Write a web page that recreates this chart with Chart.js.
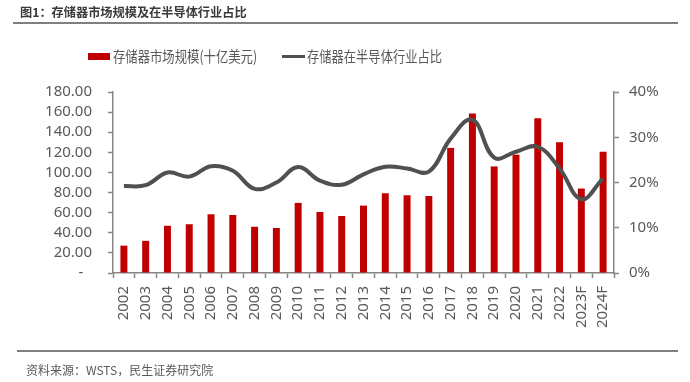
<!DOCTYPE html>
<html>
<head>
<meta charset="utf-8">
<script src="https://cdn.jsdelivr.net/npm/chart.js@4"></script>
<style>
  body { margin: 0; background: #fff; }
  #wrap { position: relative; width: 690px; height: 382px; overflow: hidden; font-family: "Noto Sans CJK SC", "Noto Sans", sans-serif; }
  #mainChart { position: absolute; left: 0; top: 0; }
  .title { position: absolute; left: 20px; top: 3px; font-size: 12.2px; font-weight: bold; color: #3a3a3a; white-space: nowrap; }
  .rule { position: absolute; left: 13px; width: 665px; background: #7f7f7f; }
  .legend-item { position: absolute; top: 46px; font-size: 15px; color: #595959; white-space: nowrap; line-height: 20px; transform-origin: 0 50%; }
  .swatch { position: absolute; }
  .source { position: absolute; left: 26px; top: 361px; font-size: 12px; color: #595959; white-space: nowrap; }
</style>
</head>
<body>
<div id="wrap">
  <canvas id="mainChart" width="690" height="382"></canvas>
  <div class="title">图1：存储器市场规模及在半导体行业占比</div>
  <div class="rule" style="top:22px;height:2px;"></div>
  <div class="swatch" style="left:88px;top:53px;width:22px;height:7px;background:#c00000;"></div>
  <div class="legend-item" id="leg1" style="left:113px;">存储器市场规模(十亿美元)</div>
  <div class="swatch" style="left:282px;top:55px;width:23px;height:3px;background:#505050;"></div>
  <div class="legend-item" id="leg2" style="left:307px;">存储器在半导体行业占比</div>
  <div class="rule" style="top:350px;height:2px;left:17px;width:661px;"></div>
  <div class="source">资料来源：WSTS，民生证券研究院</div>
</div>
<script>
const years = ['2002', '2003', '2004', '2005', '2006', '2007', '2008', '2009', '2010', '2011', '2012',
  '2013', '2014', '2015', '2016', '2017', '2018', '2019', '2020', '2021', '2022', '2023F', '2024F'];

// memory market size, billion USD
const marketSize = [27.2, 32, 47, 48.5, 58.4, 57.7, 46, 44.8, 69.7, 60.7, 56.7,
  67, 79.3, 77.3, 76.6, 124.4, 158.5, 106, 117.7, 154, 130, 84, 120.6];

// share of memory in semiconductor industry
const memoryShare = [0.192, 0.194, 0.222, 0.213, 0.236, 0.226, 0.186, 0.200, 0.234, 0.204, 0.195,
  0.218, 0.235, 0.231, 0.224, 0.297, 0.339, 0.255, 0.268, 0.279, 0.231, 0.163, 0.209];

const leftTicks = [0, 20, 40, 60, 80, 100, 120, 140, 160, 180];
const rightTicks = [0, 0.1, 0.2, 0.3, 0.4];

const axisGray = '#868686';
const labelGray = '#595959';
const numFont = { family: "'Noto Sans', 'Noto Sans CJK SC', sans-serif", size: 15 };

// squeeze legend text to the widths seen in the original
function fitLegend(id, width) {
  const el = document.getElementById(id);
  el.style.transform = `scaleX(${width / el.offsetWidth})`;
}

document.addEventListener('DOMContentLoaded', () => {
  fitLegend('leg1', 144);
  fitLegend('leg2', 135);

  const ctx = document.getElementById('mainChart').getContext('2d');

  new Chart(ctx, {
    type: 'bar',
    data: {
      labels: years,
      datasets: [
        {
          type: 'line',
          label: '存储器在半导体行业占比',
          data: memoryShare,
          yAxisID: 'y1',
          borderColor: '#505050',
          borderWidth: 4,
          tension: 0.4,
          pointRadius: 0,
          fill: false,
          order: 0
        },
        {
          type: 'bar',
          label: '存储器市场规模(十亿美元)',
          data: marketSize,
          yAxisID: 'y',
          backgroundColor: '#c00000',
          barPercentage: 0.32,
          categoryPercentage: 1,
          order: 1
        }
      ]
    },
    options: {
      responsive: false,
      animation: false,
      layout: { padding: { top: 92, bottom: 0, left: 0, right: 0 } },
      plugins: {
        legend: { display: false },
        tooltip: { enabled: false }
      },
      scales: {
        x: {
          offset: true,
          grid: { display: true, offset: true, drawOnChartArea: false, tickLength: 5, color: axisGray, tickWidth: 1.5 },
          border: { color: axisGray, width: 1.5 },
          ticks: { color: labelGray, font: numFont, maxRotation: 90, minRotation: 90, padding: 8, autoSkip: false },
          afterFit: scale => { scale.height = 109; }
        },
        y: {
          position: 'left',
          min: 0,
          max: 180,
          afterBuildTicks: scale => { scale.ticks = leftTicks.map(v => ({ value: v })); },
          grid: { drawOnChartArea: false, tickLength: 5, color: axisGray, tickWidth: 1.5 },
          border: { color: axisGray, width: 1.5 },
          ticks: {
            color: labelGray,
            font: numFont,
            padding: 16,
            autoSkip: false,
            callback: v => v === 0 ? '-\u2007' : v.toFixed(2)
          },
          afterFit: scale => { scale.width = 113; }
        },
        y1: {
          position: 'right',
          min: 0,
          max: 0.4,
          afterBuildTicks: scale => { scale.ticks = rightTicks.map(v => ({ value: v })); },
          grid: { drawOnChartArea: false, tickLength: 5, color: axisGray, tickWidth: 1.5 },
          border: { color: axisGray, width: 1.5 },
          ticks: {
            color: labelGray,
            font: numFont,
            padding: 10,
            autoSkip: false,
            callback: v => Math.round(v * 100) + '%'
          },
          afterFit: scale => { scale.width = 76; }
        }
      }
    }
  });
});
</script>
</body>
</html>
